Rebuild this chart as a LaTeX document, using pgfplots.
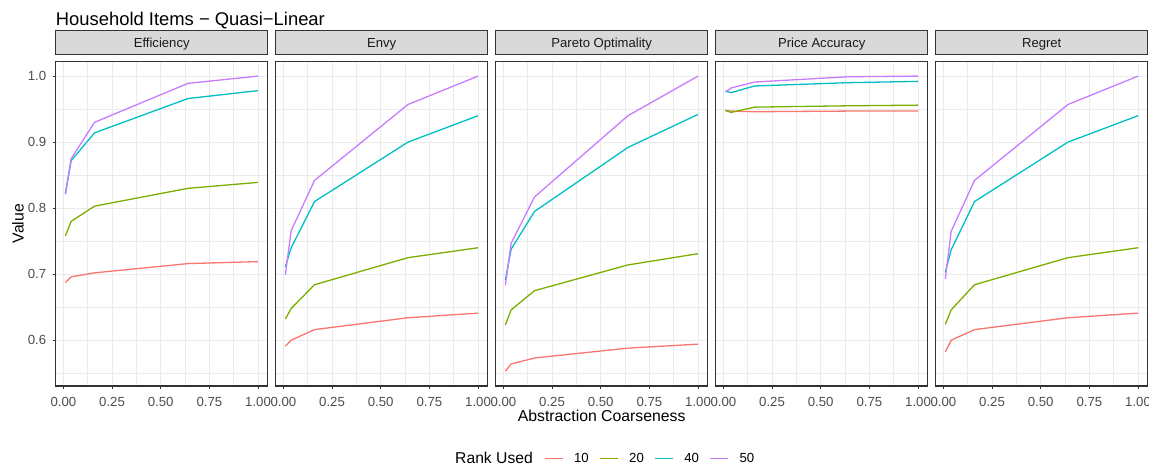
\documentclass[border=0pt]{standalone}
\usepackage{fontspec}
\setmainfont{Liberation Sans}
\usepackage{pgfplots}
\usepackage{pgfplotstable}
\pgfplotsset{compat=1.18}
\definecolor{c10}{HTML}{F8766D}
\definecolor{c20}{HTML}{7CAE00}
\definecolor{c40}{HTML}{00BFC4}
\definecolor{c50}{HTML}{C77CFF}
\definecolor{gridc}{HTML}{EBEBEB}
\definecolor{framec}{HTML}{333333}
\definecolor{tickc}{HTML}{4D4D4D}
\definecolor{stripc}{HTML}{D9D9D9}
\newcommand\fs[1]{\fontsize{#1}{#1}\selectfont}

\pgfplotstableread{
x r10 r20 r40 r50
0.01 0.687 0.758 0.821 0.822
0.04 0.696 0.780 0.872 0.875
0.16 0.702 0.803 0.914 0.930
0.64 0.716 0.830 0.966 0.989
1.00 0.719 0.839 0.978 1.000
}\effdata
\pgfplotstableread{
x r10 r20 r40 r50
0.01 0.591 0.632 0.711 0.699
0.04 0.600 0.648 0.740 0.766
0.16 0.616 0.684 0.810 0.842
0.64 0.634 0.725 0.900 0.957
1.00 0.641 0.740 0.940 1.000
}\envydata
\pgfplotstableread{
x r10 r20 r40 r50
0.01 0.553 0.623 0.691 0.683
0.04 0.564 0.646 0.738 0.747
0.16 0.573 0.675 0.795 0.817
0.64 0.588 0.714 0.892 0.940
1.00 0.594 0.731 0.942 1.000
}\paretodata
\pgfplotstableread{
x r10 r20 r40 r50
0.01 0.948 0.948 0.977 0.976
0.04 0.947 0.945 0.975 0.982
0.16 0.946 0.953 0.985 0.991
0.64 0.947 0.955 0.990 0.999
1.00 0.947 0.956 0.992 1.000
}\pricedata
\pgfplotstableread{
x r10 r20 r40 r50
0.01 0.582 0.624 0.703 0.693
0.04 0.600 0.646 0.737 0.765
0.16 0.616 0.684 0.810 0.842
0.64 0.634 0.725 0.900 0.957
1.00 0.641 0.740 0.940 1.000
}\regretdata

\pgfplotsset{
  facet/.style={
    scale only axis, width=212pt, height=324.7pt,
    anchor=north west,
    xmin=-0.0395, xmax=1.0495, ymin=0.5306, ymax=1.0224,
    xtick={0,0.25,0.5,0.75,1}, xticklabels={0.00,0.25,0.50,0.75,1.00},
    minor xtick={0.125,0.375,0.625,0.875},
    ytick={0.6,0.7,0.8,0.9,1.0}, yticklabels={0.6,0.7,0.8,0.9,1.0},
    minor ytick={0.55,0.65,0.75,0.85,0.95},
    grid=both,
    major grid style={gridc, line width=1.1pt},
    minor grid style={gridc, line width=0.55pt},
    axis line style={framec, line width=1.1pt},
    tick align=outside, xtick pos=bottom, ytick pos=left,
    tick style={framec, line width=1.1pt},
    major tick length=3pt, minor tick length=0pt,
    x tick label style={font=\fs{13.2}, text=tickc, inner sep=0pt, anchor=north, text height=9.5pt, text depth=0pt, yshift=-7.5pt},
    y tick label style={font=\fs{13.2}, text=tickc, inner sep=0pt, anchor=east, xshift=-6.4pt},
    title style={at={(0.5,1)}, anchor=south, draw=framec, fill=stripc, line width=1.1pt,
      minimum width=212pt, minimum height=24.3pt, inner sep=0pt, text height=9.4pt, text depth=0pt,
      font=\fs{13.1}, text={black!90}},
    every axis plot/.append style={line width=1.3pt, mark=none},
    clip=true,
  },
  noy/.style={yticklabels={}, every major y tick/.append style={draw=none}},
}

\begin{document}
\begin{tikzpicture}
\begin{axis}[facet, at={(55.7pt,-61.3pt)}, title={Efficiency},
  legend columns=4,
  legend style={draw=none, fill=none, inner sep=0pt, outer sep=0pt,
    at={(2.3033,-0.2227)}, anchor=west, font=\fs{13.2},
    nodes={inner sep=0pt},
    /tikz/every odd column/.style={column sep=10.7pt},
    /tikz/every even column/.style={column sep=10.5pt}},
  legend image code/.code={\draw[#1, line width=1.3pt] (0pt,0pt) -- (18pt,0pt);}]
\addplot[c10] table[x=x,y=r10]{\effdata}; \addlegendentry{10}
\addplot[c20] table[x=x,y=r20]{\effdata}; \addlegendentry{20}
\addplot[c40] table[x=x,y=r40]{\effdata}; \addlegendentry{40}
\addplot[c50] table[x=x,y=r50]{\effdata}; \addlegendentry{50}
\end{axis}
\begin{axis}[facet, noy, at={(275.7pt,-61.3pt)}, title={Envy}]
\addplot[c10] table[x=x,y=r10]{\envydata};
\addplot[c20] table[x=x,y=r20]{\envydata};
\addplot[c40] table[x=x,y=r40]{\envydata};
\addplot[c50] table[x=x,y=r50]{\envydata};
\end{axis}
\begin{axis}[facet, noy, at={(495.7pt,-61.3pt)}, title={Pareto Optimality}]
\addplot[c10] table[x=x,y=r10]{\paretodata};
\addplot[c20] table[x=x,y=r20]{\paretodata};
\addplot[c40] table[x=x,y=r40]{\paretodata};
\addplot[c50] table[x=x,y=r50]{\paretodata};
\end{axis}
\begin{axis}[facet, noy, at={(715.7pt,-61.3pt)}, title={Price Accuracy}]
\addplot[c10] table[x=x,y=r10]{\pricedata};
\addplot[c20] table[x=x,y=r20]{\pricedata};
\addplot[c40] table[x=x,y=r40]{\pricedata};
\addplot[c50] table[x=x,y=r50]{\pricedata};
\end{axis}
\begin{axis}[facet, noy, at={(935.7pt,-61.3pt)}, title={Regret}]
\addplot[c10] table[x=x,y=r10]{\regretdata};
\addplot[c20] table[x=x,y=r20]{\regretdata};
\addplot[c40] table[x=x,y=r40]{\regretdata};
\addplot[c50] table[x=x,y=r50]{\regretdata};
\end{axis}
\node[anchor=base west, inner sep=0pt, font=\fs{18.4}] at (55.7pt,-25.5pt) {Household Items − Quasi−Linear};
\node[anchor=base, inner sep=0pt, font=\fs{15.8}] at (601.7pt,-421pt) {Abstraction Coarseness};
\node[anchor=base, rotate=90, inner sep=0pt, font=\fs{15.8}] at (23.5pt,-223.7pt) {Value};
\node[anchor=base west, inner sep=0pt, font=\fs{15.7}] at (455pt,-463pt) {Rank Used};
\pgfresetboundingbox
\path[use as bounding box] (0,0) rectangle (1149pt,-466pt);
\end{tikzpicture}
\end{document}
